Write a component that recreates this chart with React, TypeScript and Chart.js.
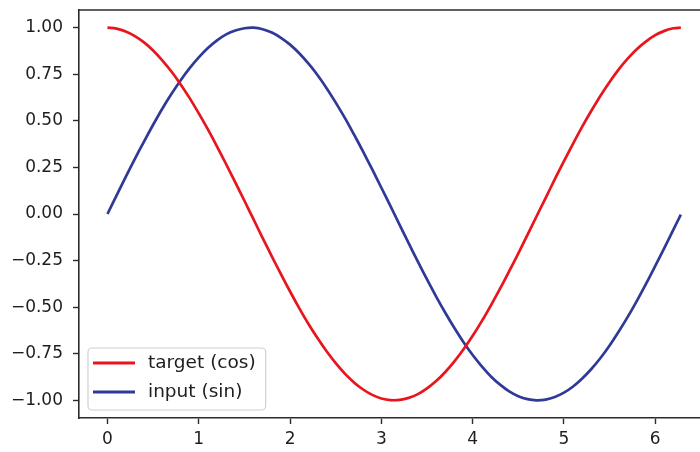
import React, { useEffect, useRef } from "react";
import { Chart, registerables } from "chart.js";

Chart.register(...registerables);

// Sample positions (radians) and the two traced waveforms
const xValues = [
  0, 0.1, 0.2, 0.3, 0.4, 0.5, 0.6, 0.7, 0.8, 0.9, 1.0, 1.1, 1.2, 1.3, 1.4, 1.5,
  1.6, 1.7, 1.8, 1.9, 2.0, 2.1, 2.2, 2.3, 2.4, 2.5, 2.6, 2.7, 2.8, 2.9, 3.0, 3.1,
  3.2, 3.3, 3.4, 3.5, 3.6, 3.7, 3.8, 3.9, 4.0, 4.1, 4.2, 4.3, 4.4, 4.5, 4.6, 4.7,
  4.8, 4.9, 5.0, 5.1, 5.2, 5.3, 5.4, 5.5, 5.6, 5.7, 5.8, 5.9, 6.0, 6.1, 6.2, 6.28,
];
const targetCos = [
  1.0, 0.995, 0.98, 0.955, 0.921, 0.878, 0.825, 0.765, 0.697, 0.622, 0.54, 0.454,
  0.362, 0.267, 0.17, 0.071, -0.029, -0.129, -0.227, -0.323, -0.416, -0.505, -0.589,
  -0.666, -0.737, -0.801, -0.857, -0.904, -0.942, -0.971, -0.99, -0.999, -0.998,
  -0.987, -0.967, -0.936, -0.897, -0.848, -0.791, -0.726, -0.654, -0.575, -0.49,
  -0.401, -0.307, -0.211, -0.112, -0.012, 0.087, 0.187, 0.284, 0.378, 0.469, 0.554,
  0.635, 0.709, 0.776, 0.835, 0.886, 0.927, 0.96, 0.983, 0.997, 1.0,
];
const inputSin = [
  0.0, 0.1, 0.199, 0.296, 0.389, 0.479, 0.565, 0.644, 0.717, 0.783, 0.841, 0.891,
  0.932, 0.964, 0.985, 0.997, 1.0, 0.992, 0.974, 0.946, 0.909, 0.863, 0.808, 0.746,
  0.675, 0.598, 0.516, 0.427, 0.335, 0.239, 0.141, 0.042, -0.058, -0.158, -0.256,
  -0.351, -0.443, -0.53, -0.612, -0.688, -0.757, -0.818, -0.872, -0.916, -0.952,
  -0.978, -0.994, -1.0, -0.996, -0.982, -0.959, -0.926, -0.883, -0.832, -0.773,
  -0.706, -0.631, -0.551, -0.465, -0.374, -0.279, -0.182, -0.083, -0.003,
];

const seriesLabels = ["target (cos)", "input (sin)"];
const seriesColors = ["#e8151c", "#2f3a98"];

const xTickValues = [0, 1, 2, 3, 4, 5, 6];
const yTickValues = [1, 0.75, 0.5, 0.25, 0, -0.25, -0.5, -0.75, -1];
const yTickLabels = ["1.00", "0.75", "0.50", "0.25", "0.00", "\u22120.25", "\u22120.50", "\u22120.75", "\u22121.00"];

const FONT = "'DejaVu Sans', sans-serif";
const AXIS_COLOR = "#2b2b2b";
const TEXT_COLOR = "#1e1e1e";

// Draws the top spine and an in-plot legend box in the lower-left corner
const framePlugin = {
  id: "frameAndLegend",
  afterDatasetsDraw(chart: any) {
    const { ctx, chartArea } = chart;
    ctx.save();
    ctx.strokeStyle = AXIS_COLOR;
    ctx.lineWidth = 1.6;
    ctx.beginPath();
    ctx.moveTo(chartArea.left - 0.8, chartArea.top);
    ctx.lineTo(chartArea.right, chartArea.top);
    ctx.stroke();

    ctx.font = `18.5px ${FONT}`;
    const textW = Math.max(...seriesLabels.map((l) => ctx.measureText(l).width));
    const boxX = chartArea.left + 9;
    const boxH = 62;
    const boxY = chartArea.bottom - 8 - boxH;
    const boxW = 60 + textW + 10;

    ctx.fillStyle = "rgba(255,255,255,0.85)";
    ctx.strokeStyle = "#d0d0d0";
    ctx.lineWidth = 1.2;
    ctx.beginPath();
    ctx.roundRect(boxX, boxY, boxW, boxH, 4);
    ctx.fill();
    ctx.stroke();

    seriesLabels.forEach((label, i) => {
      const rowY = boxY + 15 + i * 29;
      ctx.strokeStyle = seriesColors[i];
      ctx.lineWidth = 2.8;
      ctx.beginPath();
      ctx.moveTo(boxX + 5, rowY);
      ctx.lineTo(boxX + 47, rowY);
      ctx.stroke();
      ctx.fillStyle = TEXT_COLOR;
      ctx.textBaseline = "middle";
      ctx.textAlign = "left";
      ctx.fillText(label, boxX + 60, rowY);
    });
    ctx.restore();
  },
};

export default function App() {
  const canvasRef = useRef<HTMLCanvasElement | null>(null);

  useEffect(() => {
    if (!canvasRef.current) return;
    const series = [targetCos, inputSin];
    const chart = new Chart(canvasRef.current, {
      type: "line",
      data: {
        datasets: series.map((vals, i) => ({
          label: seriesLabels[i],
          data: xValues.map((x, j) => ({ x, y: vals[j] })),
          borderColor: seriesColors[i],
          borderWidth: 2.7,
          pointRadius: 0,
          tension: 0.3,
          fill: false,
        })),
      },
      options: {
        animation: false,
        responsive: false,
        maintainAspectRatio: false,
        layout: { padding: { top: 10, right: 0, left: 0, bottom: 0 } },
        plugins: { legend: { display: false }, tooltip: { enabled: false } },
        scales: {
          x: {
            type: "linear",
            min: -0.312,
            max: 6.49,
            afterBuildTicks: (axis: any) => {
              axis.ticks = xTickValues.map((v) => ({ value: v }));
            },
            afterFit: (scale: any) => {
              scale.height = 34;
              scale.paddingLeft = 0;
              scale.paddingRight = 0;
            },
            grid: {
              display: true,
              drawOnChartArea: false,
              drawTicks: true,
              tickLength: 6,
              tickWidth: 1.4,
              tickColor: AXIS_COLOR,
            },
            border: { display: true, color: AXIS_COLOR, width: 1.6 },
            ticks: {
              color: TEXT_COLOR,
              font: { family: FONT, size: 17 },
              padding: 5,
              maxRotation: 0,
              callback: (v: any) => String(v),
            },
          },
          y: {
            type: "linear",
            min: -1.095,
            max: 1.095,
            afterBuildTicks: (axis: any) => {
              axis.ticks = yTickValues.map((v) => ({ value: v }));
            },
            afterFit: (scale: any) => {
              scale.width = 79;
              scale.paddingTop = 0;
              scale.paddingBottom = 0;
            },
            grid: {
              display: true,
              drawOnChartArea: false,
              drawTicks: true,
              tickLength: 6,
              tickWidth: 1.4,
              tickColor: AXIS_COLOR,
            },
            border: { display: true, color: AXIS_COLOR, width: 1.6 },
            ticks: {
              color: TEXT_COLOR,
              font: { family: FONT, size: 17 },
              padding: 10,
              callback: (v: any) => {
                const idx = yTickValues.indexOf(Number(v));
                return idx >= 0 ? yTickLabels[idx] : "";
              },
            },
          },
        },
      },
      plugins: [framePlugin],
    });
    return () => chart.destroy();
  }, []);

  return (
    <div style={{ position: "fixed", left: 0, top: 0, width: 700, height: 452, background: "#fff" }}>
      <canvas ref={canvasRef} width={700} height={452} style={{ display: "block", width: 700, height: 452 }} />
    </div>
  );
}
